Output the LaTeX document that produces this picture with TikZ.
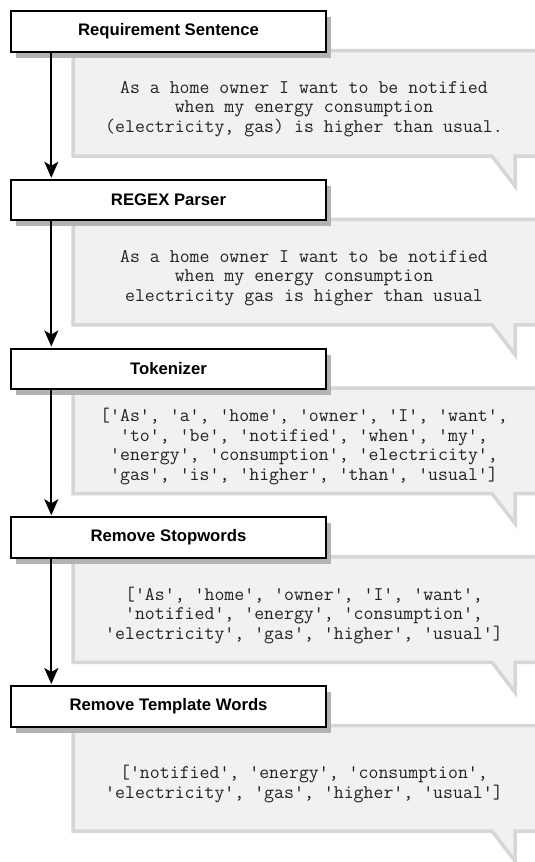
\documentclass[tikz,border=0pt]{standalone}
\usepackage{fontspec}
\setmainfont{Liberation Sans}
\usetikzlibrary{arrows.meta,shadows}
\definecolor{calloutfill}{HTML}{F1F1F1}
\definecolor{calloutline}{HTML}{D6D6D6}
\definecolor{shadowgray}{HTML}{B3B3B3}
\definecolor{codetext}{HTML}{222222}
\begin{document}
\begin{tikzpicture}[x=1pt,y=-1pt,
  stepbox/.style={draw=black, line width=2pt, fill=white, minimum width=315pt,
    minimum height=40.5pt, inner sep=0pt,
    font=\fontsize{16.7}{20}\selectfont\bfseries,
    general shadow={fill=shadowgray, shadow xshift=5pt, shadow yshift=-6pt}},
  calloutshape/.style={fill=calloutfill, draw=calloutline, line width=3.5pt, line join=miter},
  calltext/.style={align=center, text=codetext, font=\fontsize{19.3}{19.5}\selectfont\ttfamily, inner sep=0pt},
  flow/.style={draw=black, line width=2pt, -{Stealth[length=16pt,width=14pt,inset=4pt]}}]
\useasboundingbox (0,0) rectangle (535,862);
\fill[white] (0,0) rectangle (535,862);
% callouts
\foreach \k in {0,...,4}{
  \pgfmathsetmacro{\dy}{168.75*\k}
  \draw[calloutshape] (73,50.5+\dy) -- (540,50.5+\dy) -- (540,156+\dy) -- (515,156+\dy)
    -- (515,186+\dy) -- (492,156+\dy) -- (73,156+\dy) -- cycle;
}
\node[calltext] (t1) at (304,109) {As a home owner I want to be notified\\when my energy consumption\\(electricity, gas) is higher than usual.};
\node[calltext] (t2) at (304,277.75) {As a home owner I want to be notified\\when my energy consumption\\electricity gas is higher than usual};
\node[calltext] (t3) at (304,446.5) {['As', 'a', 'home', 'owner', 'I', 'want',\\'to', 'be', 'notified', 'when', 'my',\\'energy', 'consumption', 'electricity',\\'gas', 'is', 'higher', 'than', 'usual']};
\node[calltext] (t4) at (304,615.25) {['As', 'home', 'owner', 'I', 'want',\\'notified', 'energy', 'consumption',\\'electricity', 'gas', 'higher', 'usual']};
\node[calltext] (t5) at (304,784) {['notified', 'energy', 'consumption',\\'electricity', 'gas', 'higher', 'usual']};
% boxes
\node[stepbox] (b1) at (168.5,31.25) {Requirement Sentence};
\node[stepbox] (b2) at (168.5,200) {REGEX Parser};
\node[stepbox] (b3) at (168.5,368.75) {Tokenizer};
\node[stepbox] (b4) at (168.5,537.5) {Remove Stopwords};
\node[stepbox] (b5) at (168.5,706.25) {Remove Template Words};
% arrows
\foreach \a/\b in {b1/b2,b2/b3,b3/b4,b4/b5}{
  \draw[flow] ([xshift=41.3pt]\a.south west) -- ([xshift=41.3pt,yshift=1pt]\b.north west);
}
\end{tikzpicture}
\end{document}
